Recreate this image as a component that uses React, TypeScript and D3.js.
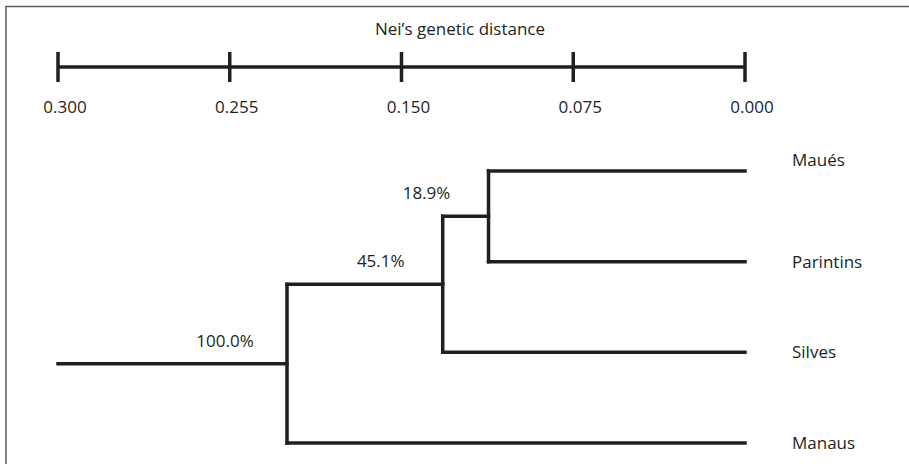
import { useEffect, useRef } from 'react';
import * as d3 from 'd3';

// scale bar
const tickValues = [0.3, 0.225, 0.15, 0.075, 0];
const tickLabels = ['0.300', '0.255', '0.150', '0.075', '0.000'];

// leaves, top to bottom
const leaves = ['Maués', 'Parintins', 'Silves', 'Manaus'];

// successive joins: Maués+Parintins, then +Silves, then +Manaus
const joinHeights = [0.112, 0.132, 0.2];
const bootstrap = ['18.9%', '45.1%', '100.0%'];
const rootStart = 0.3;

type TreeNode = { name?: string; h: number; label?: string; children?: TreeNode[] };

const buildTree = (): TreeNode => {
  let node: TreeNode = {
    h: joinHeights[0],
    label: bootstrap[0],
    children: [{ name: leaves[0], h: 0 }, { name: leaves[1], h: 0 }],
  };
  for (let i = 1; i < joinHeights.length; i++) {
    node = {
      h: joinHeights[i],
      label: bootstrap[i],
      children: [node, { name: leaves[i + 1], h: 0 }],
    };
  }
  return node;
};

const W = 909;
const H = 464;
const INK = '#231f20';
const FONT = '"Open Sans", sans-serif';
const FS = '17px';

const App = () => {
  const svgRef = useRef<SVGSVGElement>(null);

  useEffect(() => {
    if (!svgRef.current) return;
    const svg = d3.select(svgRef.current);
    svg.selectAll('*').remove();

    const x = d3.scaleLinear().domain([rootStart, 0]).range([58, 745]);
    const yLeaf = d3.scalePoint<string>().domain(leaves).range([171, 443]);

    // frame (top and left only)
    svg.append('path')
      .attr('d', `M6,${H}V6.5H${W}`)
      .attr('fill', 'none')
      .attr('stroke', '#5a5a5a')
      .attr('stroke-width', 1.5);

    // title
    svg.append('text')
      .attr('x', 460)
      .attr('y', 35)
      .attr('text-anchor', 'middle')
      .style('font-family', FONT)
      .style('font-size', FS)
      .style('fill', INK)
      .text('Nei’s genetic distance');

    // scale bar
    const axisY = 67;
    const bar = svg.append('g');
    bar.append('line')
      .attr('x1', x(rootStart))
      .attr('x2', x(0))
      .attr('y1', axisY)
      .attr('y2', axisY)
      .attr('stroke', INK)
      .attr('stroke-width', 3.5);
    bar.selectAll('line.tick')
      .data(tickValues)
      .enter()
      .append('line')
      .attr('class', 'tick')
      .attr('x1', d => x(d))
      .attr('x2', d => x(d))
      .attr('y1', axisY - 15)
      .attr('y2', axisY + 15)
      .attr('stroke', INK)
      .attr('stroke-width', 3.5);
    bar.selectAll('text')
      .data(tickValues)
      .enter()
      .append('text')
      .attr('x', d => x(d) + 7)
      .attr('y', 113)
      .attr('text-anchor', 'middle')
      .style('font-family', FONT)
      .style('font-size', FS)
      .style('fill', INK)
      .text((_, i) => tickLabels[i]);

    // dendrogram
    const root = d3.hierarchy<TreeNode>(buildTree());
    const yOf = new Map<d3.HierarchyNode<TreeNode>, number>();
    root.eachAfter(n => {
      if (n.children) yOf.set(n, d3.mean(n.children, c => yOf.get(c)!)!);
      else yOf.set(n, yLeaf(n.data.name!)!);
    });

    const tree = svg.append('g')
      .attr('fill', 'none')
      .attr('stroke', INK)
      .attr('stroke-width', 3.5)
      .attr('stroke-linecap', 'square');

    // stem + horizontal branches
    root.each(n => {
      const x0 = n.parent ? x(n.parent.data.h) : x(rootStart);
      tree.append('line')
        .attr('x1', x0)
        .attr('x2', x(n.data.h))
        .attr('y1', yOf.get(n)!)
        .attr('y2', yOf.get(n)!);
    });

    // vertical connectors
    root.descendants().filter(n => n.children).forEach(n => {
      const ys = n.children!.map(c => yOf.get(c)!);
      tree.append('line')
        .attr('x1', x(n.data.h))
        .attr('x2', x(n.data.h))
        .attr('y1', d3.min(ys)!)
        .attr('y2', d3.max(ys)!);
    });

    // bootstrap labels
    svg.selectAll('text.boot')
      .data(root.descendants().filter(n => n.children))
      .enter()
      .append('text')
      .attr('class', 'boot')
      .attr('x', d => x(d.data.h) - 62)
      .attr('y', d => yOf.get(d)! - 17)
      .attr('text-anchor', 'middle')
      .style('font-family', FONT)
      .style('font-size', FS)
      .style('fill', INK)
      .text(d => d.data.label!);

    // leaf labels
    svg.selectAll('text.leaf')
      .data(root.leaves())
      .enter()
      .append('text')
      .attr('class', 'leaf')
      .attr('x', 792)
      .attr('y', (d, i) => yOf.get(d)! + (i === 0 ? -5 : 6))
      .style('font-family', FONT)
      .style('font-size', FS)
      .style('fill', INK)
      .text(d => d.data.name!);
  }, []);

  return (
    <svg
      ref={svgRef}
      width={W}
      height={H}
      style={{ position: 'absolute', left: 0, top: 0, display: 'block', background: '#fff' }}
    />
  );
};

export default App;
